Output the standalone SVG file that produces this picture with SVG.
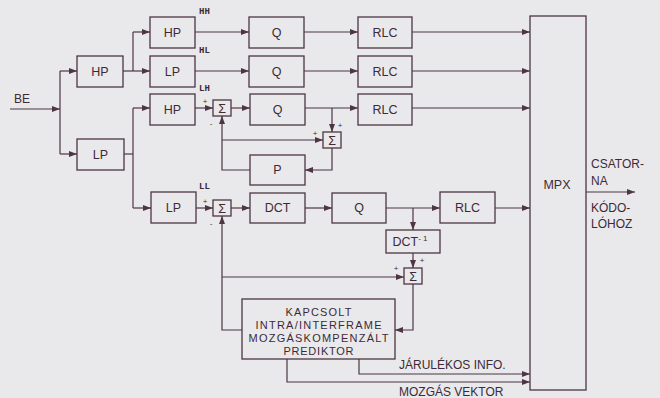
<svg xmlns="http://www.w3.org/2000/svg" width="660" height="398" viewBox="0 0 660 398">
<style>
.b{fill:none;stroke:#4d3542;stroke-width:1.3}
.l{fill:none;stroke:#4d3542;stroke-width:1.2}
.t{font-family:"Liberation Sans",Arial,sans-serif;font-size:12.5px;fill:#3e2a36;text-anchor:middle}
.s{font-family:"Liberation Sans",Arial,sans-serif;font-size:12.5px;fill:#3e2a36;text-anchor:middle}
.p{font-family:"Liberation Sans",Arial,sans-serif;font-size:8px;fill:#3e2a36;text-anchor:middle}
.k{font-family:"Liberation Mono","Courier New",monospace;font-size:9px;font-weight:bold;fill:#3e2a36}
.w{font-family:"Liberation Sans",Arial,sans-serif;font-size:12px;fill:#3e2a36}
.r{font-family:"Liberation Sans",Arial,sans-serif;font-size:11px;fill:#3e2a36;text-anchor:middle}
</style>
<defs>
<marker id="a" viewBox="0 0 8 6" refX="8" refY="3" markerWidth="8" markerHeight="6" markerUnits="userSpaceOnUse" orient="auto">
<path d="M0,0 L8,3 L0,6 z" fill="#4d3542"/>
</marker>
</defs>
<rect width="660" height="398" fill="#e9e9ec"/>

<g id="connectors" class="l">
<path d="M10,109 H60" marker-end="url(#a)"/>
<path d="M60,71 V154"/>
<path d="M60,71 H77" marker-end="url(#a)"/>
<path d="M60,154 H77" marker-end="url(#a)"/>
<path d="M123,71 H150" marker-end="url(#a)"/>
<path d="M133,32 V71"/>
<path d="M133,32 H150" marker-end="url(#a)"/>
<path d="M124,154 H133"/>
<path d="M133,108 V208"/>
<path d="M133,108 H150" marker-end="url(#a)"/>
<path d="M133,208 H151" marker-end="url(#a)"/>
<path d="M195,32 H249" marker-end="url(#a)"/>
<path d="M304,32 H358" marker-end="url(#a)"/>
<path d="M412,32 H530" marker-end="url(#a)"/>
<path d="M195,71 H249" marker-end="url(#a)"/>
<path d="M304,71 H358" marker-end="url(#a)"/>
<path d="M412,71 H530" marker-end="url(#a)"/>
<path d="M195,108 H213" marker-end="url(#a)"/>
<path d="M231,108 H250" marker-end="url(#a)"/>
<path d="M305,108 H358" marker-end="url(#a)"/>
<path d="M412,108 H530" marker-end="url(#a)"/>
<path d="M332,108 V132" marker-end="url(#a)"/>
<path d="M332,148 V170 H305" marker-end="url(#a)"/>
<path d="M250,170 H222 V116" marker-end="url(#a)"/>
<path d="M222,140 H323" marker-end="url(#a)"/>
<path d="M196,208 H213" marker-end="url(#a)"/>
<path d="M231,208 H250" marker-end="url(#a)"/>
<path d="M305,208 H332" marker-end="url(#a)"/>
<path d="M386,208 H440" marker-end="url(#a)"/>
<path d="M495,208 H530" marker-end="url(#a)"/>
<path d="M413,208 V230" marker-end="url(#a)"/>
<path d="M413,253 V268" marker-end="url(#a)"/>
<path d="M413,284 V330 H395" marker-end="url(#a)"/>
<path d="M242,330 H222 V216" marker-end="url(#a)"/>
<path d="M222,277 H404" marker-end="url(#a)"/>
<path d="M359,359 V374 H530" marker-end="url(#a)"/>
<path d="M287,359 V382 H530" marker-end="url(#a)"/>
<path d="M586,192 H635" marker-end="url(#a)"/>
</g>

<g id="be"><text class="w" x="14" y="103">BE</text></g>
<g id="hp1"><rect class="b" x="77" y="56" width="46" height="31"/><text class="t" x="100" y="76">HP</text></g>
<g id="lp1"><rect class="b" x="77" y="139" width="47" height="31"/><text class="t" x="100.5" y="159">LP</text></g>
<g id="hp-hh"><rect class="b" x="150" y="17" width="45" height="31"/><text class="t" x="172.5" y="37">HP</text></g>
<g id="lp-hl"><rect class="b" x="150" y="56" width="45" height="31"/><text class="t" x="172.5" y="76">LP</text></g>
<g id="hp-lh"><rect class="b" x="150" y="94" width="45" height="31"/><text class="t" x="172.5" y="114">HP</text></g>
<g id="lp-ll"><rect class="b" x="151" y="192" width="45" height="31"/><text class="t" x="173.5" y="212">LP</text></g>

<g id="labels">
<text class="k" x="199" y="14">HH</text>
<text class="k" x="199" y="53">HL</text>
<text class="k" x="199" y="91">LH</text>
<text class="k" x="199" y="189">LL</text>
</g>

<g id="q1"><rect class="b" x="249" y="17" width="55" height="31"/><text class="t" x="276.5" y="37">Q</text></g>
<g id="q2"><rect class="b" x="249" y="56" width="55" height="31"/><text class="t" x="276.5" y="76">Q</text></g>
<g id="q3"><rect class="b" x="250" y="94" width="55" height="31"/><text class="t" x="277.5" y="114">Q</text></g>
<g id="rlc1"><rect class="b" x="358" y="17" width="54" height="31"/><text class="t" x="385" y="37">RLC</text></g>
<g id="rlc2"><rect class="b" x="358" y="56" width="54" height="31"/><text class="t" x="385" y="76">RLC</text></g>
<g id="rlc3"><rect class="b" x="358" y="94" width="54" height="31"/><text class="t" x="385" y="114">RLC</text></g>

<g id="sum1"><rect class="b" x="213" y="100" width="18" height="16"/><text class="s" x="222" y="112.5">Σ</text>
<text class="p" x="205" y="104">+</text><text class="p" x="211" y="126">-</text></g>
<g id="sum2"><rect class="b" x="323" y="132" width="18" height="16"/><text class="s" x="332" y="144.5">Σ</text>
<text class="p" x="315" y="136">+</text><text class="p" x="340" y="128">+</text></g>
<g id="p"><rect class="b" x="250" y="155" width="55" height="30"/><text class="t" x="277.5" y="174">P</text></g>

<g id="sum3"><rect class="b" x="213" y="200" width="18" height="16"/><text class="s" x="222" y="212.5">Σ</text>
<text class="p" x="205" y="204">+</text><text class="p" x="211" y="226">-</text></g>
<g id="dct"><rect class="b" x="250" y="193" width="55" height="30"/><text class="t" x="277.5" y="212">DCT</text></g>
<g id="q4"><rect class="b" x="332" y="193" width="54" height="30"/><text class="t" x="359" y="212">Q</text></g>
<g id="rlc4"><rect class="b" x="440" y="192" width="55" height="31"/><text class="t" x="467.5" y="212">RLC</text></g>
<g id="idct"><rect class="b" x="386" y="230" width="54" height="23"/><text class="t" x="410" y="246">DCT<tspan font-size="8" dy="-5">- 1</tspan></text></g>
<g id="sum4"><rect class="b" x="404" y="268" width="18" height="16"/><text class="s" x="413" y="280.5">Σ</text>
<text class="p" x="396" y="271">+</text><text class="p" x="422" y="263">+</text></g>

<g id="predictor"><rect class="b" x="242" y="299" width="153" height="60"/>
<text class="r" x="318.5" y="316" textLength="66" lengthAdjust="spacing">KAPCSOLT</text>
<text class="r" x="318.5" y="329" textLength="126" lengthAdjust="spacing">INTRA/INTERFRAME</text>
<text class="r" x="318.5" y="342" textLength="140" lengthAdjust="spacing">MOZGÁSKOMPENZÁLT</text>
<text class="r" x="318.5" y="355" textLength="70" lengthAdjust="spacing">PREDIKTOR</text></g>

<g id="mpx"><rect class="b" x="530" y="16" width="56" height="374"/><text class="t" x="557" y="189">MPX</text></g>

<g id="out-labels">
<text class="w" x="591" y="168">CSATOR-</text>
<text class="w" x="591" y="185">NA</text>
<text class="w" x="591" y="212">KÓDO-</text>
<text class="w" x="591" y="228">LÓHOZ</text>
<text class="w" x="399" y="369">JÁRULÉKOS INFO.</text>
<text class="w" x="399" y="396">MOZGÁS VEKTOR</text>
</g>
</svg>
